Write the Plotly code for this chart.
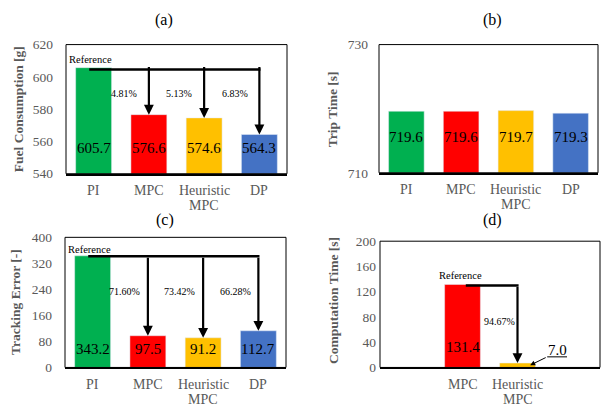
import plotly.graph_objects as go

# ---------------- data ----------------
categories = ["PI", "MPC", "Heuristic<br>MPC", "DP"]
bar_colors = ["#00B050", "#FF0000", "#FFC000", "#4472C4"]
fuel = [605.7, 576.6, 574.6, 564.3]
trip_time = [719.6, 719.6, 719.7, 719.3]
tracking = [343.2, 97.5, 91.2, 112.7]
comp_categories = ["MPC", "Heuristic<br>MPC"]
comp_time = [131.4, 7.0]
comp_colors = ["#FF0000", "#FFC000"]
fuel_pct = ["4.81%", "5.13%", "6.83%"]
track_pct = ["71.60%", "73.42%", "66.28%"]
comp_pct = ["94.67%"]
d_slots = [" ", "MPC", "Heuristic<br>MPC", "  "]

FONT = "Liberation Serif"
GRAY = "#595959"
W, H = 604, 414

def px_x(p):
    return p / W

def px_y(p):
    return 1 - p / H

fig = go.Figure()

panels = {
    "a": dict(xa="xaxis", ya="yaxis", x="x", y="y", xd=[66, 287], yd=[39, 173]),
    "b": dict(xa="xaxis2", ya="yaxis2", x="x2", y="y2", xd=[379, 598], yd=[39, 172]),
    "c": dict(xa="xaxis3", ya="yaxis3", x="x3", y="y3", xd=[65, 286], yd=[239, 374]),
    "d": dict(xa="xaxis4", ya="yaxis4", x="x4", y="y4", xd=[380, 600], yd=[243, 374]),
}

# bars
fig.add_bar(x=categories, y=fuel, marker_color=bar_colors, width=0.65, xaxis="x", yaxis="y")
fig.add_bar(x=categories, y=trip_time, marker_color=bar_colors, width=0.65, xaxis="x2", yaxis="y2")
fig.add_bar(x=categories, y=tracking, marker_color=bar_colors, width=0.65, xaxis="x3", yaxis="y3")
fig.add_bar(x=comp_categories, y=comp_time, marker_color=comp_colors, width=0.65, xaxis="x4", yaxis="y4")

yranges = {"a": [540, 620], "b": [710, 730], "c": [0, 400], "d": [0, 200]}
ytickvals = {"a": [540, 560, 580, 600, 620], "b": [710, 730],
             "c": [0, 80, 160, 240, 320, 400], "d": [0, 40, 80, 120, 160, 200]}
standoff = {"a": 12, "b": 10, "c": 12, "d": 3}

layout = dict(
    width=W, height=H, margin=dict(l=0, r=0, t=0, b=0),
    paper_bgcolor="white", plot_bgcolor="white", showlegend=False,
    font=dict(family=FONT, color=GRAY), bargap=0.35,
)
shapes = []
annotations = []
for k, p in panels.items():
    cats = d_slots if k == "d" else categories
    layout[p["xa"]] = dict(
        domain=[px_x(p["xd"][0]), px_x(p["xd"][1])], anchor=p["y"],
        type="category", categoryorder="array", categoryarray=cats,
        range=[-0.5, 3.5], showline=True, linecolor="black", linewidth=2,
        ticks="", showticklabels=False, showgrid=False, fixedrange=True,
    )
    layout[p["ya"]] = dict(
        domain=[px_y(p["yd"][1]), px_y(p["yd"][0])], anchor=p["x"],
        range=yranges[k], tickvals=ytickvals[k], showgrid=False, zeroline=False,
        showline=False, ticks="", ticklabelstandoff=standoff[k],
        tickfont=dict(family=FONT, size=13.5, color=GRAY),
    )
    xdom = "x" + ("" if p["x"] == "x" else p["x"][1:]) + " domain"
    ydom = "y" + ("" if p["y"] == "y" else p["y"][1:]) + " domain"
    shapes.append(dict(type="rect", xref=xdom, yref=ydom, x0=0, x1=1, y0=0, y1=1,
                       line=dict(color="black", width=1), layer="above"))
    # category labels (tight line spacing like the reference)
    for i, c in enumerate(cats):
        for li, line in enumerate(c.strip().split("<br>")):
            if not line:
                continue
            annotations.append(dict(text=line, x=i, y=0, xref=p["x"], yref=ydom,
                                    yanchor="middle", yshift=-17 - 15 * li, showarrow=False,
                                    font=dict(family=FONT, size=14, color=GRAY)))

# panel titles
for txt, cx, cy in [("(a)", 164, 14), ("(b)", 492, 14), ("(c)", 165, 221), ("(d)", 492, 221)]:
    annotations.append(dict(text=txt, xref="paper", yref="paper", x=px_x(cx), y=px_y(cy),
                            showarrow=False, font=dict(family=FONT, size=16, color="black"),
                            xanchor="center", yanchor="middle"))

# y-axis titles
for txt, cx, cy in [("Fuel Consumption [g]", 18, 106), ("Trip Time [s]", 332, 106),
                    ("Tracking Error [-]", 16, 306), ("Computation Time [s]", 334, 305)]:
    annotations.append(dict(text="<b>" + txt + "</b>", xref="paper", yref="paper",
                            x=px_x(cx), y=px_y(cy), textangle=-90, showarrow=False,
                            font=dict(family=FONT, size=13.5, color=GRAY),
                            xanchor="center", yanchor="middle"))

VAL_FONT = dict(family=FONT, size=15, color="black")
SMALL_FONT = dict(family=FONT, size=10.5, color="black")

# value labels
val_y = {"a": 556, "b": 715.6, "c": 56}
for k, vals in [("a", fuel), ("b", trip_time), ("c", tracking)]:
    p = panels[k]
    for i, v in enumerate(vals):
        annotations.append(dict(text=f"{v:.1f}", x=i, y=val_y[k], xref=p["x"], yref=p["y"],
                                showarrow=False, font=VAL_FONT))
annotations.append(dict(text=f"{comp_time[0]:.1f}", x=1, y=32, xref="x4", yref="y4",
                        showarrow=False, font=VAL_FONT))
annotations.append(dict(text=f"{comp_time[1]:.1f}", x=2.72, y=28, xref="x4", yref="y4",
                        showarrow=False, font=VAL_FONT))
annotations.append(dict(text="", x=2.23, y=comp_time[1] / 2, ax=2.54, ay=16.8,
                        xref="x4", yref="y4", axref="x4", ayref="y4", showarrow=True,
                        arrowhead=2, arrowsize=1, arrowwidth=1, arrowcolor="black", standoff=0))
shapes.append(dict(type="line", xref="x4", yref="y4", x0=2.54, x1=2.9, y0=16.8, y1=16.8,
                   line=dict(color="black", width=1)))

# reference arrows
def ref_arrows(k, vals, pcts, ref_y, start_x, stem_off, pct_dx, pct_y, ref_txt_xy, idxs):
    p = panels[k]
    xr, yr = p["x"], p["y"]
    shapes.append(dict(type="line", xref=xr, yref=yr, x0=start_x, x1=idxs[-1] + 0.02,
                       y0=ref_y, y1=ref_y, line=dict(color="black", width=2.5)))
    for j, i in enumerate(idxs):
        annotations.append(dict(text="", x=i, y=vals[j], ax=i, ay=ref_y + stem_off,
                                xref=xr, yref=yr, axref=xr, ayref=yr, showarrow=True,
                                arrowhead=2, arrowsize=0.9, arrowwidth=2.2,
                                arrowcolor="black", standoff=0))
        annotations.append(dict(text=pcts[j], x=i - pct_dx, y=pct_y, xref=xr, yref=yr,
                                showarrow=False, font=dict(family=FONT, size=10, color="black")))
    annotations.append(dict(text="Reference", x=ref_txt_xy[0], y=ref_txt_xy[1], xref=xr, yref=yr,
                            showarrow=False, font=SMALL_FONT))

ref_arrows("a", fuel[1:], fuel_pct, fuel[0] - 1.2, -0.08, 2.5, 0.45, 590, (-0.05, 611), [1, 2, 3])
ref_arrows("c", tracking[1:], track_pct, tracking[0] - 1.5, -0.08, 0, 0.42, 234, (-0.05, 363), [1, 2, 3])
ref_arrows("d", comp_time[1:], comp_pct, comp_time[0] - 1.5, 1.06, 0, 0.33, 73, (0.97, 146), [2])

layout["shapes"] = shapes
layout["annotations"] = annotations
fig.update_layout(**layout)
fig.write_html("out.html")
